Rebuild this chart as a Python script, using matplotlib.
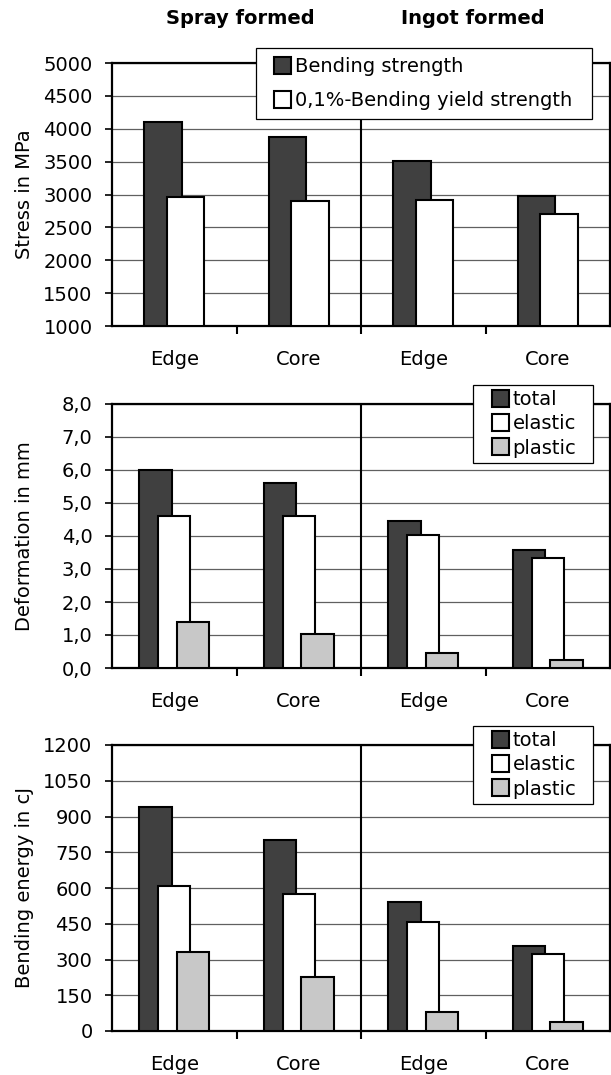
import matplotlib
matplotlib.use("Agg")
import matplotlib.pyplot as plt
from matplotlib.patches import Patch, Rectangle
from matplotlib.legend_handler import HandlerPatch
from matplotlib.ticker import FixedLocator, FuncFormatter

plt.rcParams['font.family'] = ['DejaVu Sans']

categories = ["Edge", "Core", "Edge", "Core"]
groups = ["Spray formed", "Ingot formed"]

# Top panel: stress (MPa)
bending_strength = [4110, 3880, 3510, 2980]
yield_strength = [2965, 2905, 2920, 2700]

# Middle panel: deformation (mm)
def_total = [6.0, 5.6, 4.45, 3.57]
def_elastic = [4.6, 4.6, 4.03, 3.34]
def_plastic = [1.38, 1.02, 0.45, 0.23]

# Bottom panel: bending energy (cJ)
en_total = [940, 800, 540, 358]
en_elastic = [608, 573, 459, 322]
en_plastic = [333, 228, 81, 36]

W, H = 611, 1075
DARK = "#404040"
GRAY = "#c8c8c8"
FS = 14
BLW = 1.5

fig = plt.figure(figsize=(W / 100, H / 100), dpi=100)


def rect(left, top, right, bottom):
    return [left / W, 1 - bottom / H, (right - left) / W, (bottom - top) / H]


class SquareHandler(HandlerPatch):
    def __init__(self, shift, size):
        super().__init__()
        self.shift = shift
        self.size = size

    def create_artists(self, legend, orig_handle, xdescent, ydescent,
                       width, height, fontsize, trans):
        r = Rectangle((-xdescent + self.shift,
                       -ydescent + (height - self.size) / 2),
                      self.size, self.size,
                      facecolor=orig_handle.get_facecolor(),
                      edgecolor="black", lw=BLW, transform=trans)
        return [r]


def setup(ax, ymin, ymax, step, fmt, ylabel):
    ax.set_xlim(-0.5, 3.5)
    ax.set_ylim(ymin, ymax)
    ticks = [ymin + i * step for i in range(int(round((ymax - ymin) / step)) + 1)]
    ax.yaxis.set_major_locator(FixedLocator(ticks))
    ax.yaxis.set_major_formatter(FuncFormatter(fmt))
    ax.yaxis.grid(True, color="#606060", lw=0.9)
    ax.set_axisbelow(True)
    ax.tick_params(axis='y', length=5, width=1.2, pad=9, labelsize=FS)
    ax.set_xticks([0.5, 1.5, 2.5])
    ax.set_xticklabels([])
    ax.tick_params(axis='x', length=6, width=1.5, direction='out')
    for s in ax.spines.values():
        s.set_linewidth(1.6)
        s.set_color("black")
    ax.axvline(1.5, color="black", lw=1.5, zorder=1.5)
    for i, c in enumerate(categories):
        ax.annotate(c, xy=(i, 0), xycoords=('data', 'axes fraction'),
                    xytext=(0, -24), textcoords='offset points',
                    ha='center', va='center', fontsize=FS)
    ax.set_ylabel(ylabel, fontsize=FS)
    ax.yaxis.set_label_coords(-0.157, 0.5)


def make_legend(ax, handles, labels, box, shift_px, labelspacing, borderpad):
    x0, y0, x1 = box
    size = 17 * 0.72
    shift = shift_px * 0.72
    hl = (shift + size) / FS
    lg = ax.legend(handles, labels, loc='upper left',
                   bbox_to_anchor=(x0 / W, 1 - y0 / H, (x1 - x0) / W, 0),
                   bbox_transform=fig.transFigure, borderaxespad=0,
                   mode='expand', fancybox=False, framealpha=1,
                   edgecolor="black", fontsize=FS, handlelength=hl,
                   handleheight=0.87, handletextpad=0.18,
                   labelspacing=labelspacing, borderpad=borderpad,
                   handler_map={Patch: SquareHandler(shift, size)})
    lg.get_frame().set_linewidth(0.9)
    return lg


x = range(4)

# Top panel
ax1 = fig.add_axes(rect(112, 63, 610, 326))
ax1.bar([i - 0.09 for i in x], [v - 1000 for v in bending_strength], width=0.3,
        bottom=1000, color=DARK, edgecolor="black", lw=BLW, zorder=3)
ax1.bar([i + 0.09 for i in x], [v - 1000 for v in yield_strength], width=0.3,
        bottom=1000, color="white", edgecolor="black", lw=BLW, zorder=4)
setup(ax1, 1000, 5000, 500, lambda v, p: f"{int(v)}", "Stress in MPa")
h1 = [Patch(facecolor=DARK), Patch(facecolor="white")]
make_legend(ax1, h1, ["Bending strength", "0,1%-Bending yield strength"],
            (256, 48, 592), 9, 0.75, 0.48)

fig.text(240 / W, 1 - 18 / H, groups[0], ha='center', va='center',
         fontsize=FS, fontweight='bold')
fig.text(473 / W, 1 - 18 / H, groups[1], ha='center', va='center',
         fontsize=FS, fontweight='bold')


def three(ax, tot, ela, pla):
    ax.bar([i - 0.15 for i in x], tot, width=0.26, color=DARK,
           edgecolor="black", lw=BLW, zorder=3)
    ax.bar([i + 0.0 for i in x], ela, width=0.26, color="white",
           edgecolor="black", lw=BLW, zorder=4)
    ax.bar([i + 0.15 for i in x], pla, width=0.26, color=GRAY,
           edgecolor="black", lw=BLW, zorder=5)


h3 = [Patch(facecolor=DARK), Patch(facecolor="white"), Patch(facecolor=GRAY)]
labels3 = ["total", "elastic", "plastic"]

ax2 = fig.add_axes(rect(112, 404, 610, 668))
three(ax2, def_total, def_elastic, def_plastic)
setup(ax2, 0, 8, 1, lambda v, p: f"{v:.1f}".replace('.', ','), "Deformation in mm")
make_legend(ax2, h3, labels3, (473, 385, 593), 13.5, 0.26, 0.28)

ax3 = fig.add_axes(rect(112, 745, 610, 1031))
three(ax3, en_total, en_elastic, en_plastic)
setup(ax3, 0, 1200, 150, lambda v, p: f"{int(v)}", "Bending energy in cJ")
make_legend(ax3, h3, labels3, (473, 726, 593), 13.5, 0.26, 0.28)

fig.savefig("out.png", dpi=100)
